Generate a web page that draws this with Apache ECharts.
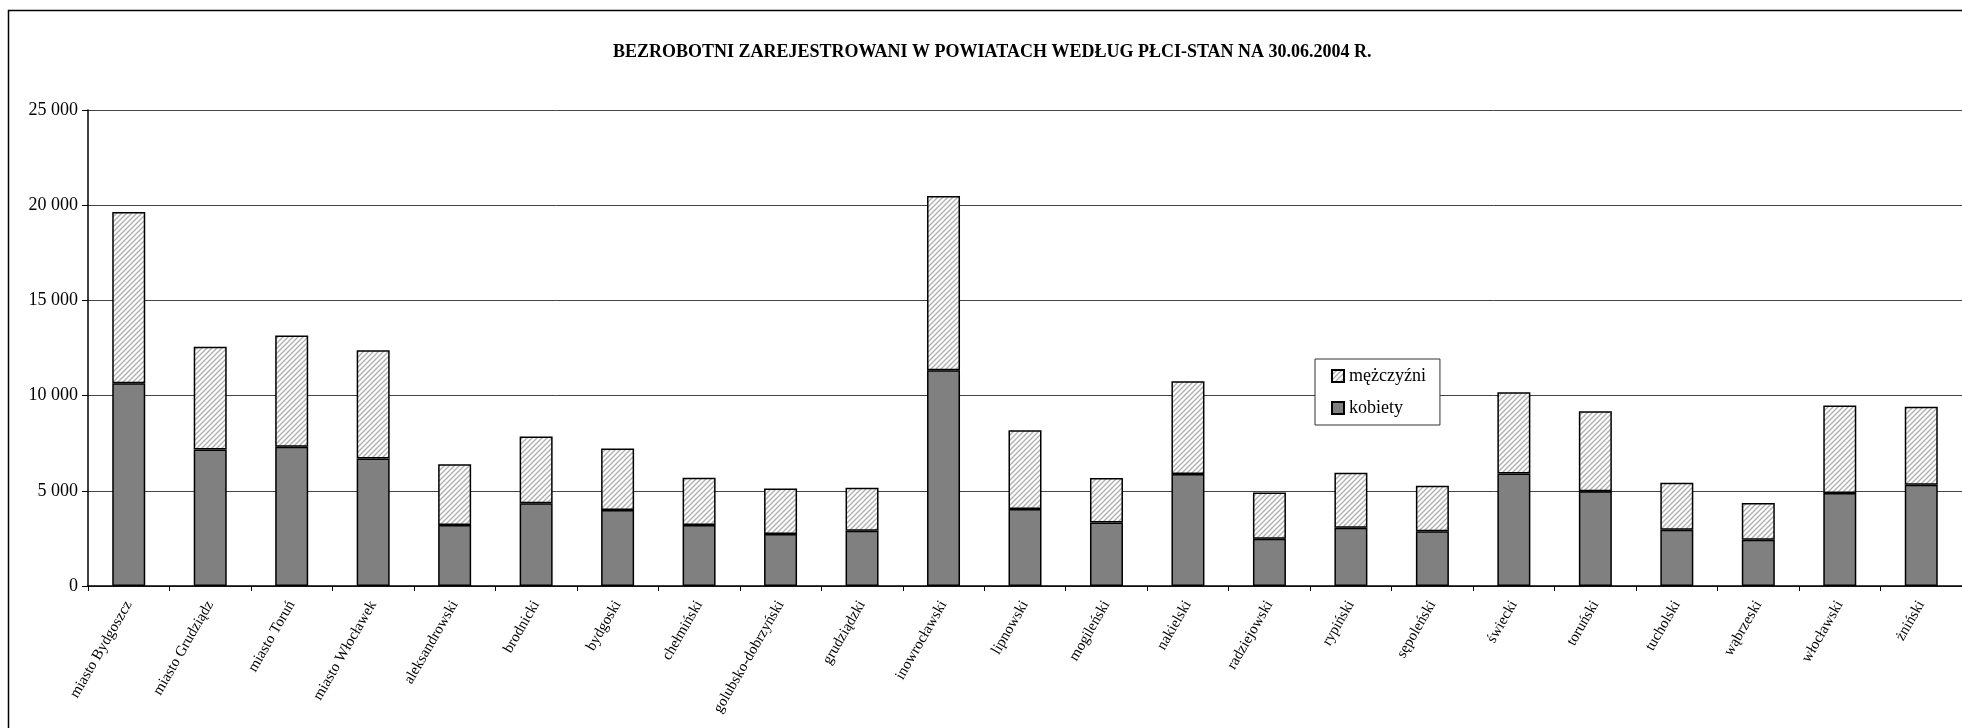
<!DOCTYPE html>
<html>
<head>
<meta charset="utf-8">
<script src="https://cdn.jsdelivr.net/npm/echarts@6/dist/echarts.min.js"></script>
<style>
html,body{margin:0;padding:0;background:#fff;}
#c{width:1962px;height:728px;}
</style>
</head>
<body>
<div id="c"></div>
<script>
const categories = ['miasto Bydgoszcz','miasto Grudziądz','miasto Toruń','miasto Włocławek','aleksandrowski','brodnicki','bydgoski','chełmiński','golubsko-dobrzyński','grudziądzki','inowrocławski','lipnowski','mogileński','nakielski','radziejowski','rypiński','sępoleński','świecki','toruński','tucholski','wąbrzeski','włocławski','żniński'];
const kobiety = [10650,7170,7310,6700,3200,4340,3990,3200,2730,2900,11330,4040,3340,5880,2480,3060,2870,5910,4970,2955,2430,4880,5320];
const mezczyzni = [8990,5390,5840,5680,3200,3510,3230,2480,2395,2260,9150,4145,2330,4880,2435,2885,2395,4270,4210,2465,1925,4600,4090];
const yTicks = [0,5000,10000,15000,20000,25000];

const serif = '"Liberation Serif","Times New Roman",serif';

function hatch(){
  const s = 5;
  const cv = document.createElement('canvas');
  cv.width = s; cv.height = s;
  const g = cv.getContext('2d');
  g.fillStyle = '#ffffff';
  g.fillRect(0,0,s,s);
  g.strokeStyle = '#b0b0b0';
  g.lineWidth = 1.4;
  g.beginPath();
  g.moveTo(-1, s+1); g.lineTo(s+1, -1);
  g.moveTo(-1, 1); g.lineTo(1, -1);
  g.moveTo(s-1, s+1); g.lineTo(s+1, s-1);
  g.stroke();
  return cv;
}

const chart = echarts.init(document.getElementById('c'), null, {renderer:'canvas'});
const pattern = {image: hatch(), repeat: 'repeat'};

chart.setOption({
  animation: false,
  backgroundColor: '#fff',
  title: {
    text: 'BEZROBOTNI ZAREJESTROWANI W POWIATACH WEDŁUG PŁCI-STAN NA 30.06.2004 R.',
    left: 613, top: 43,
    padding: 0,
    textStyle: {fontFamily: serif, fontWeight: 'bold', fontSize: 18, color: '#000'}
  },
  graphic: [{
    type: 'rect', z: -10,
    shape: {x: 8.5, y: 10.5, width: 2200, height: 1000},
    style: {fill: 'none', stroke: '#000', lineWidth: 1.5}
  }],
  legend: {
    data: ['mężczyźni','kobiety'],
    orient: 'vertical',
    left: 1315, top: 359,
    padding: [8, 14, 8, 16],
    itemGap: 14,
    itemWidth: 12, itemHeight: 12,
    backgroundColor: '#fff',
    borderColor: '#333', borderWidth: 1,
    textStyle: {fontFamily: serif, fontSize: 18, color: '#000'},
    icon: 'rect'
  },
  grid: {left: 88, top: 110, width: 1880, height: 476, containLabel: false},
  xAxis: {
    type: 'category',
    data: categories,
    axisLine: {lineStyle: {color: '#000', width: 1.5}},
    axisTick: {show: true, length: 5, lineStyle: {color: '#000'}},
    axisLabel: {rotate: 60, margin: 16, interval: 0, fontFamily: serif, fontSize: 15, color: '#000'}
  },
  yAxis: {
    type: 'value',
    min: 0, max: 25000, interval: 5000,
    axisLine: {show: true, lineStyle: {color: '#000', width: 1.5}},
    axisTick: {show: true, length: 6, lineStyle: {color: '#000'}},
    axisLabel: {
      margin: 10, fontFamily: serif, fontSize: 18, color: '#000',
      formatter: v => yTicks.indexOf(v) >= 0 ? String(v).replace(/\B(?=(\d{3})+(?!\d))/g, ' ') : ''
    },
    splitLine: {show: true, lineStyle: {color: '#444', width: 1}}
  },
  series: [
    {
      name: 'kobiety', type: 'bar', stack: 'all', barWidth: 33,
      data: kobiety,
      itemStyle: {color: '#808080', borderColor: '#000', borderWidth: 1.5}
    },
    {
      name: 'mężczyźni', type: 'bar', stack: 'all', barWidth: 33,
      data: mezczyzni,
      itemStyle: {color: pattern, borderColor: '#000', borderWidth: 1.5}
    }
  ]
});
</script>
</body>
</html>
